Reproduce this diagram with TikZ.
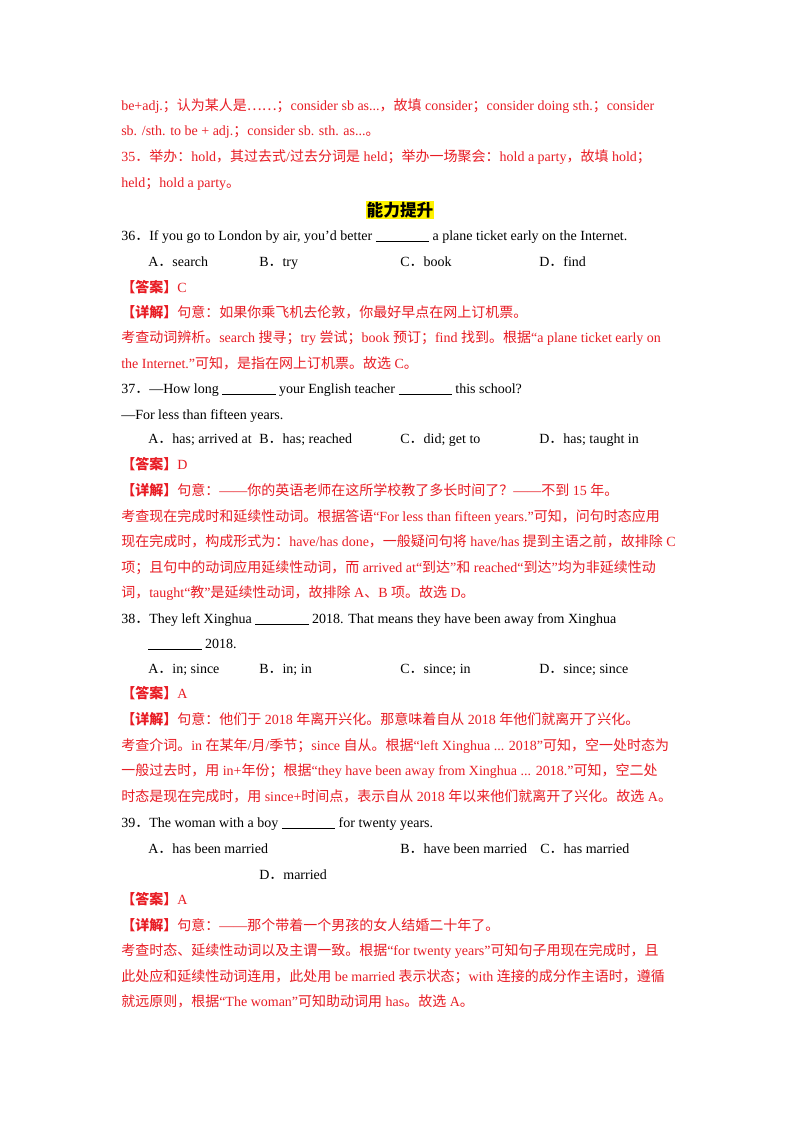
\documentclass[tikz,border=0pt]{standalone}
\usepackage{fontspec}
\setmainfont{Liberation Serif}
\newfontfamily\latfont{Liberation Serif}
\newfontfamily\cjkfont{Noto Sans CJK SC}
\newXeTeXintercharclass\cjkcls
\makeatletter
\def\setcls#1#2{\count255=#1\relax\loop\XeTeXcharclass\count255=\cjkcls\ifnum\count255<#2\advance\count255 1\repeat}
\setcls{"3000}{"303F}
\setcls{"4E00}{"9FFF}
\setcls{"FF00}{"FFEF}
\XeTeXcharclass"2026=\cjkcls
\makeatother
\XeTeXinterchartoks 0 \cjkcls={\cjkfont}
\XeTeXinterchartoks \cjkcls 0={\latfont}
\XeTeXinterchartoks 4095 \cjkcls={\cjkfont}
\XeTeXinterchartoks \cjkcls 4095={\latfont}
\definecolor{hred}{RGB}{232,28,36}
\newcommand\blk{\rule[-1.5pt]{40pt}{0.4pt}}
\newcommand\ans{{\bfseries 【答案】}}
\newcommand\xj{{\bfseries 【详解】}}
\tikzset{t/.style={anchor=base west,inner sep=0pt,font=\fontsize{10.5pt}{12pt}\latfont},
 r/.style={t,text=hred}}
\begin{document}
\XeTeXinterchartokenstate=1
\begin{tikzpicture}[x=0.75pt,y=-0.75pt]
\useasboundingbox[fill=white] (0,0) rectangle (800,1132);
\node[r] (l1) at (121,110) {be+adj.；认为某人是……；consider sb as...，故填 consider；consider doing sth.；consider};
\node[r] (l2) at (121,135) {sb. /sth. to be + adj.；consider sb. sth. as...。};
\node[r] (l3) at (121,161) {35．举办：hold，其过去式/过去分词是 held；举办一场聚会：hold a party，故填 hold；};
\node[r] (l4) at (121,187) {held；hold a party。};
\node[anchor=center,inner sep=0.5pt,fill=yellow,font=\fontsize{12.5pt}{14pt}\bfseries\cjkfont] (title) at (400,210) {能力提升};
\node[t] (q36) at (121,240) {36．If you go to London by air, you’d better \blk{} a plane ticket early on the Internet.};
\node[t] (a36a) at (148,266) {A．search};
\node[t] (a36b) at (259,266) {B．try};
\node[t] (a36c) at (400,266) {C．book};
\node[t] (a36d) at (539,266) {D．find};
\node[r] (k36) at (121,292) {\ans C};
\node[r] (x36) at (121,317) {\xj 句意：如果你乘飞机去伦敦，你最好早点在网上订机票。};
\node[r] (e36a) at (121,342) {考查动词辨析。search 搜寻；try 尝试；book 预订；find 找到。根据“a plane ticket early on};
\node[r] (e36b) at (121,368) {the Internet.”可知，是指在网上订机票。故选 C。};
\node[t] (q37) at (121,393) {37．—How long \blk{} your English teacher \blk{} this school?};
\node[t] (q37b) at (121,419) {—For less than fifteen years.};
\node[t] (a37a) at (148,443) {A．has; arrived at};
\node[t] (a37b) at (259,443) {B．has; reached};
\node[t] (a37c) at (400,443) {C．did; get to};
\node[t] (a37d) at (539,443) {D．has; taught in};
\node[r] (k37) at (121,469) {\ans D};
\node[r] (x37) at (121,495) {\xj 句意：——你的英语老师在这所学校教了多长时间了？——不到 15 年。};
\node[r] (e37a) at (121,521) {考查现在完成时和延续性动词。根据答语“For less than fifteen years.”可知，问句时态应用};
\node[r] (e37b) at (121,546) {现在完成时，构成形式为：have/has done，一般疑问句将 have/has 提到主语之前，故排除 C};
\node[r] (e37c) at (121,572) {项；且句中的动词应用延续性动词，而 arrived at“到达”和 reached“到达”均为非延续性动};
\node[r] (e37d) at (121,597) {词，taught“教”是延续性动词，故排除 A、B 项。故选 D。};
\node[t] (q38) at (121,623) {38．They left Xinghua \blk{} 2018. That means they have been away from Xinghua};
\node[t] (q38b) at (148,648) {\blk{} 2018.};
\node[t] (a38a) at (148,673) {A．in; since};
\node[t] (a38b) at (259,673) {B．in; in};
\node[t] (a38c) at (400,673) {C．since; in};
\node[t] (a38d) at (539,673) {D．since; since};
\node[r] (k38) at (121,698) {\ans A};
\node[r] (x38) at (121,724) {\xj 句意：他们于 2018 年离开兴化。那意味着自从 2018 年他们就离开了兴化。};
\node[r] (e38a) at (121,750) {考查介词。in 在某年/月/季节；since 自从。根据“left Xinghua ... 2018”可知，空一处时态为};
\node[r] (e38b) at (121,775) {一般过去时，用 in+年份；根据“they have been away from Xinghua ... 2018.”可知，空二处};
\node[r] (e38c) at (121,801) {时态是现在完成时，用 since+时间点，表示自从 2018 年以来他们就离开了兴化。故选 A。};
\node[t] (q39) at (121,827) {39．The woman with a boy \blk{} for twenty years.};
\node[t] (a39a) at (148,853) {A．has been married};
\node[t] (a39b) at (400,853) {B．have been married};
\node[t] (a39c) at (540,853) {C．has married};
\node[t] (a39d) at (259,879) {D．married};
\node[r] (k39) at (121,904) {\ans A};
\node[r] (x39) at (121,930) {\xj 句意：——那个带着一个男孩的女人结婚二十年了。};
\node[r] (e39a) at (121,955) {考查时态、延续性动词以及主谓一致。根据“for twenty years”可知句子用现在完成时，且};
\node[r] (e39b) at (121,981) {此处应和延续性动词连用，此处用 be married 表示状态；with 连接的成分作主语时，遵循};
\node[r] (e39c) at (121,1006) {就远原则，根据“The woman”可知助动词用 has。故选 A。};
\end{tikzpicture}
\end{document}
